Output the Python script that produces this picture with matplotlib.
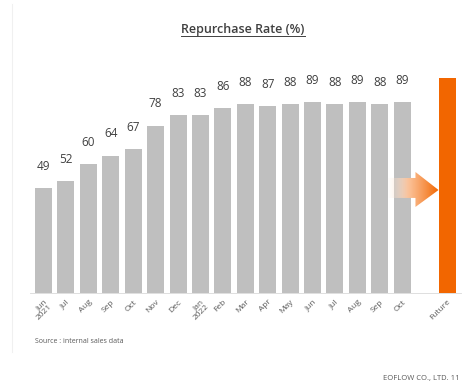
import numpy as np
import matplotlib
matplotlib.use("Agg")
import matplotlib.pyplot as plt
from matplotlib.patches import Polygon
from matplotlib.lines import Line2D

plt.rcParams['font.family'] = ['Open Sans', 'DejaVu Sans']

months = ["Jun\n2021", "Jul", "Aug", "Sep", "Oct", "Nov", "Dec", "Jan\n2022",
          "Feb", "Mar", "Apr", "May", "Jun", "Jul", "Aug", "Sep", "Oct"]
rates = [49, 52, 60, 64, 67, 78, 83, 83, 86, 88, 87, 88, 89, 88, 89, 88, 89]
future_label = "Future"
future_value = 100

gray = "#bfbfbf"
orange = "#f26600"
bar_w = 0.76

fig = plt.figure(figsize=(4.68, 3.85), dpi=100)
ax = fig.add_axes([0.0643, 0.239, 0.9197, 0.613])

x = np.arange(len(months))
fx = len(months) + 1
ax.bar(x, rates, width=bar_w, color=gray, zorder=2)
ax.bar([fx], [future_value], width=bar_w, color=orange, zorder=2)

for xi, v in zip(x, rates):
    ax.annotate(str(v), (xi, v), xytext=(0, 11), textcoords="offset points",
                ha="center", va="bottom", fontsize=8.5, color="#404040")

ax.set_xlim(-0.6, fx + 0.6)
ax.set_ylim(0, 110)
ax.set_xticks(list(x) + [fx])
ax.set_xticklabels(months + [future_label], rotation=45, ha="right",
                   va="top", rotation_mode="anchor", fontsize=6,
                   color="#595959", multialignment="right", linespacing=0.95)
ax.tick_params(axis="x", length=0, pad=4)
ax.set_yticks([])
for s in ["top", "left", "right"]:
    ax.spines[s].set_visible(False)
ax.spines["bottom"].set_color("#d9d9d9")
ax.spines["bottom"].set_linewidth(0.6)

# gradient arrow pointing at the future bar
tip = fx - bar_w / 2
yc = 48
pts = [(tip - 2.28, yc + 5.6), (tip - 1.03, yc + 5.6), (tip - 1.03, yc + 8.4),
       (tip, yc), (tip - 1.03, yc - 7.9), (tip - 1.03, yc - 3.7),
       (tip - 2.28, yc - 3.7)]
arrow = Polygon(pts, closed=True, facecolor="none", edgecolor="none")
ax.add_patch(arrow)
n = 200
t = np.linspace(0, 1, n)
grad = np.zeros((1, n, 4))
c0 = np.array([1.0, 0.93, 0.88])
c1 = np.array([0.949, 0.40, 0.0])
grad[0, :, :3] = c0[None, :] * (1 - t[:, None] ** 1.3) + c1[None, :] * t[:, None] ** 1.3
grad[0, :, 3] = np.clip(t * 2.5, 0, 1)
im = ax.imshow(grad, extent=[tip - 2.28, tip, yc - 8, yc + 8.5],
               aspect="auto", zorder=3, interpolation="bilinear")
im.set_clip_path(arrow)
ax.set_xlim(-0.6, fx + 0.6)
ax.set_ylim(0, 110)

# title with underline
title = fig.text(0.519, 0.914, "Repurchase Rate (%)", ha="center", va="baseline",
                 fontsize=9, fontweight="semibold", color="#404040")
fig.canvas.draw()
bb = title.get_window_extent().transformed(fig.transFigure.inverted())
fig.add_artist(Line2D([bb.x0, bb.x1], [0.906, 0.906], color="#404040", lw=0.7))

fig.text(0.075, 0.113, "Source : internal sales data", fontsize=5, color="#595959",
         va="center")
fig.text(0.982, 0.018, "EOFLOW CO., LTD. 11", fontsize=5.5, color="#595959",
         ha="right", va="center")

# faint panel border
fig.add_artist(Line2D([0.026, 0.026], [0.085, 0.99], color="#f0f0f0", lw=0.8))

fig.savefig("out.png", dpi=100)
